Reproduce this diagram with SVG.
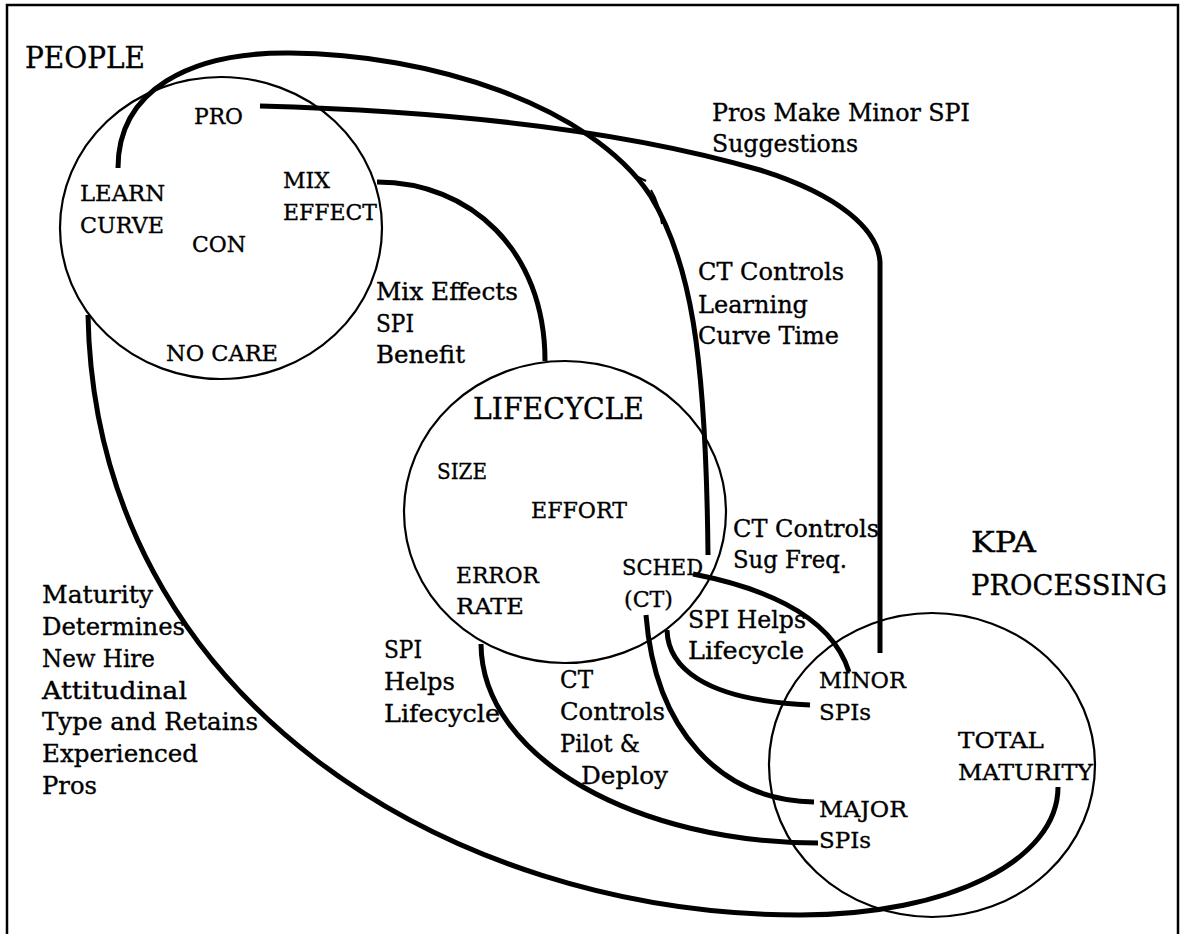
<svg xmlns="http://www.w3.org/2000/svg" width="1182" height="934" viewBox="0 0 1182 934">
<style>
text{font-family:"DejaVu Serif","Liberation Serif",serif;fill:#000;stroke:#000;stroke-width:0.35}
.t{font-size:30px}
.t2{font-size:28px}
.c{font-size:23px}
.l{font-size:24px}
.node{fill:none;stroke:#000;stroke-width:2.2}
.conn path{fill:none;stroke:#000;stroke-width:5;stroke-linecap:butt}
.conn path.thin{stroke-width:2}
</style>
<rect x="7" y="5" width="1171" height="945" fill="#fff" stroke="#000" stroke-width="2.5"/>
<g id="people">
<ellipse class="node" cx="221" cy="228" rx="161" ry="151"/>
<text class="t" x="25" y="68" textLength="120" lengthAdjust="spacingAndGlyphs">PEOPLE</text>
<text class="c" x="194" y="124" textLength="49" lengthAdjust="spacingAndGlyphs">PRO</text>
<text class="c" x="80" y="201" textLength="85" lengthAdjust="spacingAndGlyphs">LEARN</text>
<text class="c" x="80" y="233" textLength="84" lengthAdjust="spacingAndGlyphs">CURVE</text>
<text class="c" x="283" y="188" textLength="47" lengthAdjust="spacingAndGlyphs">MIX</text>
<text class="c" x="283" y="220" textLength="94" lengthAdjust="spacingAndGlyphs">EFFECT</text>
<text class="c" x="192" y="252" textLength="54" lengthAdjust="spacingAndGlyphs">CON</text>
<text class="c" x="166" y="361" textLength="112" lengthAdjust="spacingAndGlyphs">NO CARE</text>
</g>
<g id="lifecycle">
<ellipse class="node" cx="565" cy="512" rx="161" ry="151"/>
<text class="t" x="473" y="419" textLength="171" lengthAdjust="spacingAndGlyphs">LIFECYCLE</text>
<text class="c" x="437" y="479" textLength="50" lengthAdjust="spacingAndGlyphs">SIZE</text>
<text class="c" x="531" y="518" textLength="96" lengthAdjust="spacingAndGlyphs">EFFORT</text>
<text class="c" x="456" y="583" textLength="83" lengthAdjust="spacingAndGlyphs">ERROR</text>
<text class="c" x="456" y="614" textLength="68" lengthAdjust="spacingAndGlyphs">RATE</text>
<text class="c" x="622" y="575" textLength="81" lengthAdjust="spacingAndGlyphs">SCHED</text>
<text class="c" x="624" y="607" textLength="49" lengthAdjust="spacingAndGlyphs">(CT)</text>
</g>
<g id="kpa">
<ellipse class="node" cx="932" cy="765" rx="163" ry="152"/>
<text class="t2" x="971" y="552" textLength="65" lengthAdjust="spacingAndGlyphs">KPA</text>
<text class="t2" x="971" y="595" textLength="196" lengthAdjust="spacingAndGlyphs">PROCESSING</text>
<text class="c" x="819" y="688" textLength="87" lengthAdjust="spacingAndGlyphs">MINOR</text>
<text class="c" x="819" y="720" textLength="52" lengthAdjust="spacingAndGlyphs">SPIs</text>
<text class="c" x="958" y="748" textLength="86" lengthAdjust="spacingAndGlyphs">TOTAL</text>
<text class="c" x="958" y="780" textLength="135" lengthAdjust="spacingAndGlyphs">MATURITY</text>
<text class="c" x="819" y="817" textLength="88" lengthAdjust="spacingAndGlyphs">MAJOR</text>
<text class="c" x="819" y="848" textLength="52" lengthAdjust="spacingAndGlyphs">SPIs</text>
</g>
<g class="conn" id="connectors">
<path d="M118,168 C118,90 190,52 290,53 C430,54 590,105 650,195 C690,260 706,350 708,555"/>
<path class="thin" d="M638,177 L646,181 M651,190 Q659,203 662,224"/>
<path d="M260,106 C480,112 640,135 760,170 C840,195 878,230 880,262 L880,653"/>
<path d="M377,182 C470,182 545,250 545,361"/>
<path d="M88,315 C95,700 450,915 800,915 C950,915 1058,860 1058,787"/>
<path d="M481,644 C482,760 640,843 818,843"/>
<path d="M646,615 C655,730 720,800 814,802"/>
<path d="M667,630 C668,665 700,700 810,705"/>
<path d="M693,574 C750,585 830,610 849,672"/>
</g>
<g id="labels">
<text class="l" x="712" y="121" textLength="258" lengthAdjust="spacingAndGlyphs">Pros Make Minor SPI</text>
<text class="l" x="712" y="152" textLength="146" lengthAdjust="spacingAndGlyphs">Suggestions</text>
<text class="l" x="376" y="300" textLength="142" lengthAdjust="spacingAndGlyphs">Mix Effects</text>
<text class="l" x="376" y="332" textLength="38" lengthAdjust="spacingAndGlyphs">SPI</text>
<text class="l" x="376" y="363" textLength="89" lengthAdjust="spacingAndGlyphs">Benefit</text>
<text class="l" x="698" y="280" textLength="146" lengthAdjust="spacingAndGlyphs">CT Controls</text>
<text class="l" x="698" y="313" textLength="110" lengthAdjust="spacingAndGlyphs">Learning</text>
<text class="l" x="698" y="344" textLength="141" lengthAdjust="spacingAndGlyphs">Curve Time</text>
<text class="l" x="733" y="537" textLength="146" lengthAdjust="spacingAndGlyphs">CT Controls</text>
<text class="l" x="733" y="568" textLength="114" lengthAdjust="spacingAndGlyphs">Sug Freq.</text>
<text class="l" x="688" y="628" textLength="118" lengthAdjust="spacingAndGlyphs">SPI Helps</text>
<text class="l" x="688" y="659" textLength="116" lengthAdjust="spacingAndGlyphs">Lifecycle</text>
<text class="l" x="42" y="603" textLength="111" lengthAdjust="spacingAndGlyphs">Maturity</text>
<text class="l" x="42" y="635" textLength="143" lengthAdjust="spacingAndGlyphs">Determines</text>
<text class="l" x="42" y="667" textLength="113" lengthAdjust="spacingAndGlyphs">New Hire</text>
<text class="l" x="42" y="699" textLength="145" lengthAdjust="spacingAndGlyphs">Attitudinal</text>
<text class="l" x="42" y="730" textLength="216" lengthAdjust="spacingAndGlyphs">Type and Retains</text>
<text class="l" x="42" y="762" textLength="156" lengthAdjust="spacingAndGlyphs">Experienced</text>
<text class="l" x="42" y="794" textLength="55" lengthAdjust="spacingAndGlyphs">Pros</text>
<text class="l" x="384" y="658" textLength="38" lengthAdjust="spacingAndGlyphs">SPI</text>
<text class="l" x="384" y="690" textLength="71" lengthAdjust="spacingAndGlyphs">Helps</text>
<text class="l" x="384" y="722" textLength="116" lengthAdjust="spacingAndGlyphs">Lifecycle</text>
<text class="l" x="560" y="688" textLength="33" lengthAdjust="spacingAndGlyphs">CT</text>
<text class="l" x="560" y="720" textLength="105" lengthAdjust="spacingAndGlyphs">Controls</text>
<text class="l" x="560" y="752" textLength="80" lengthAdjust="spacingAndGlyphs">Pilot &amp;</text>
<text class="l" x="581" y="784" textLength="87" lengthAdjust="spacingAndGlyphs">Deploy</text>
</g>
</svg>
